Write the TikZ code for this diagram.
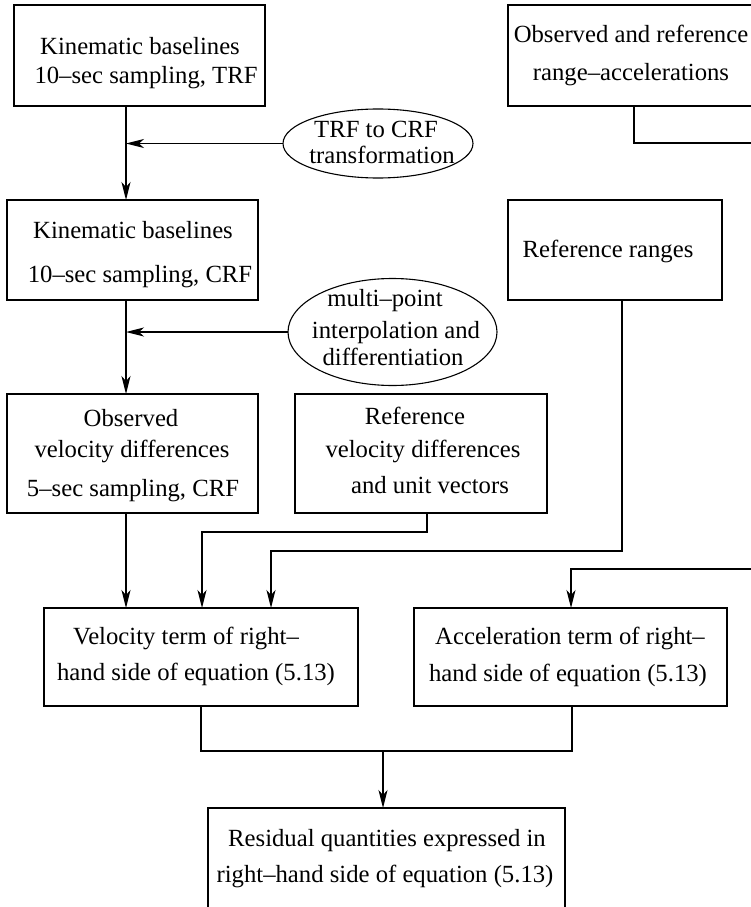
\documentclass[tikz,border=0pt]{standalone}
\usepackage{fontspec}
\setmainfont{Liberation Serif}
\usetikzlibrary{arrows.meta,shapes.geometric}
\begin{document}
\begin{tikzpicture}[x=1pt,y=-1pt,
  every node/.style={font=\fontsize{24.7}{28}\selectfont},
  box/.style={draw, line width=1.3pt, inner sep=0pt, outer sep=0pt},
  ell/.style={draw, ellipse, line width=1.1pt, inner sep=0pt, outer sep=0pt},
  txt/.style={anchor=base, inner sep=0pt, outer sep=0pt},
  conn/.style={line width=1.3pt},
  arr/.style={line width=1.3pt, -{Stealth[length=18pt,width=9pt,inset=5pt]}}]
\useasboundingbox (0,0) rectangle (751,907);
\clip (0,0) rectangle (751,907);
% boxes
\node[box, minimum width=251, minimum height=101] (kin1) at (139.5,55.5) {};
\node[box, minimum width=246, minimum height=101] (oracc) at (631,55.5) {};
\node[ell, minimum width=190, minimum height=69] (e1) at (378,143.5) {};
\node[box, minimum width=251, minimum height=100] (kin2) at (132.5,250) {};
\node[box, minimum width=214, minimum height=100] (rr) at (615,250) {};
\node[ell, minimum width=209, minimum height=107] (e2) at (392.5,332) {};
\node[box, minimum width=251, minimum height=119] (obs) at (132.5,453.5) {};
\node[box, minimum width=252, minimum height=119] (rvel) at (421,453.5) {};
\node[box, minimum width=314, minimum height=98] (vel) at (201,657) {};
\node[box, minimum width=313, minimum height=98] (accel) at (570.5,657) {};
\node[box, minimum width=357, minimum height=132] (res) at (386.5,874) {};
% texts
\node[txt] (kin1a) at (140,55) {Kinematic baselines};
\node[txt] (kin1b) at (146,84) {10–sec sampling, TRF};
\node[txt] (orac1) at (631,43) {Observed and reference};
\node[txt] (orac2) at (631,80) {range–accelerations};
\node[txt] (e1a) at (376,137) {TRF to CRF};
\node[txt] (e1b) at (382,163) {transformation};
\node[txt] (kin2a) at (133,238) {Kinematic baselines};
\node[txt] (kin2b) at (140,282) {10–sec sampling, CRF};
\node[txt] (rra) at (608,257) {Reference ranges};
\node[txt] (e2a) at (385,306) {multi–point};
\node[txt] (e2b) at (396,338) {interpolation and};
\node[txt] (e2c) at (393,365) {differentiation};
\node[txt] (obsa) at (131,426) {Observed};
\node[txt] (obsb) at (132,457) {velocity differences};
\node[txt] (obsc) at (133,496) {5–sec sampling, CRF};
\node[txt] (rvela) at (415,424) {Reference};
\node[txt] (rvelb) at (423,457) {velocity differences};
\node[txt] (rvelc) at (430,493) {and unit vectors};
\node[txt] (vela) at (186,644) {Velocity term of right–};
\node[txt] (velb) at (196,680) {hand side of equation (5.13)};
\node[txt] (acca) at (570,644) {Acceleration term of right–};
\node[txt] (accb) at (568,681) {hand side of equation (5.13)};
\node[txt] (resa) at (387,846) {Residual quantities expressed in};
\node[txt] (resb) at (385,882) {right–hand side of equation (5.13)};
% helper coordinates
\coordinate (xa) at (126,0);
\coordinate (xb) at (202,0);
\coordinate (xc) at (271,0);
\coordinate (b1) at (427,532);
\coordinate (b2) at (622,551);
\coordinate (b3) at (634,143);
\coordinate (b4) at (780,143);
\coordinate (b5) at (780,569);
\coordinate (xd) at (571,0);
\coordinate (xe) at (201,0);
\coordinate (xf) at (572,0);
\coordinate (m) at (383,751);
% connectors
\draw[arr] (kin1.south -| xa) -- (kin2.north -| xa);
\draw[arr] (e1.west) -- (e1.west -| xa);
\draw[arr] (kin2.south -| xa) -- (obs.north -| xa);
\draw[arr] (e2.west) -- (e2.west -| xa);
\draw[arr] (obs.south -| xa) -- (vel.north -| xa);
\draw[arr] (rvel.south -| b1) -- (b1) -| (vel.north -| xb);
\draw[arr] (rr.south -| b2) -- (b2) -| (vel.north -| xc);
\draw[arr] (oracc.south -| b3) -- (b3) -- (b4) -- (b5) -| (accel.north -| xd);
\draw[conn] (vel.south -| xe) -- (xe |- m) -- (xf |- m) -- (accel.south -| xf);
\draw[arr] (m) -- (res.north -| m);
\end{tikzpicture}
\end{document}
